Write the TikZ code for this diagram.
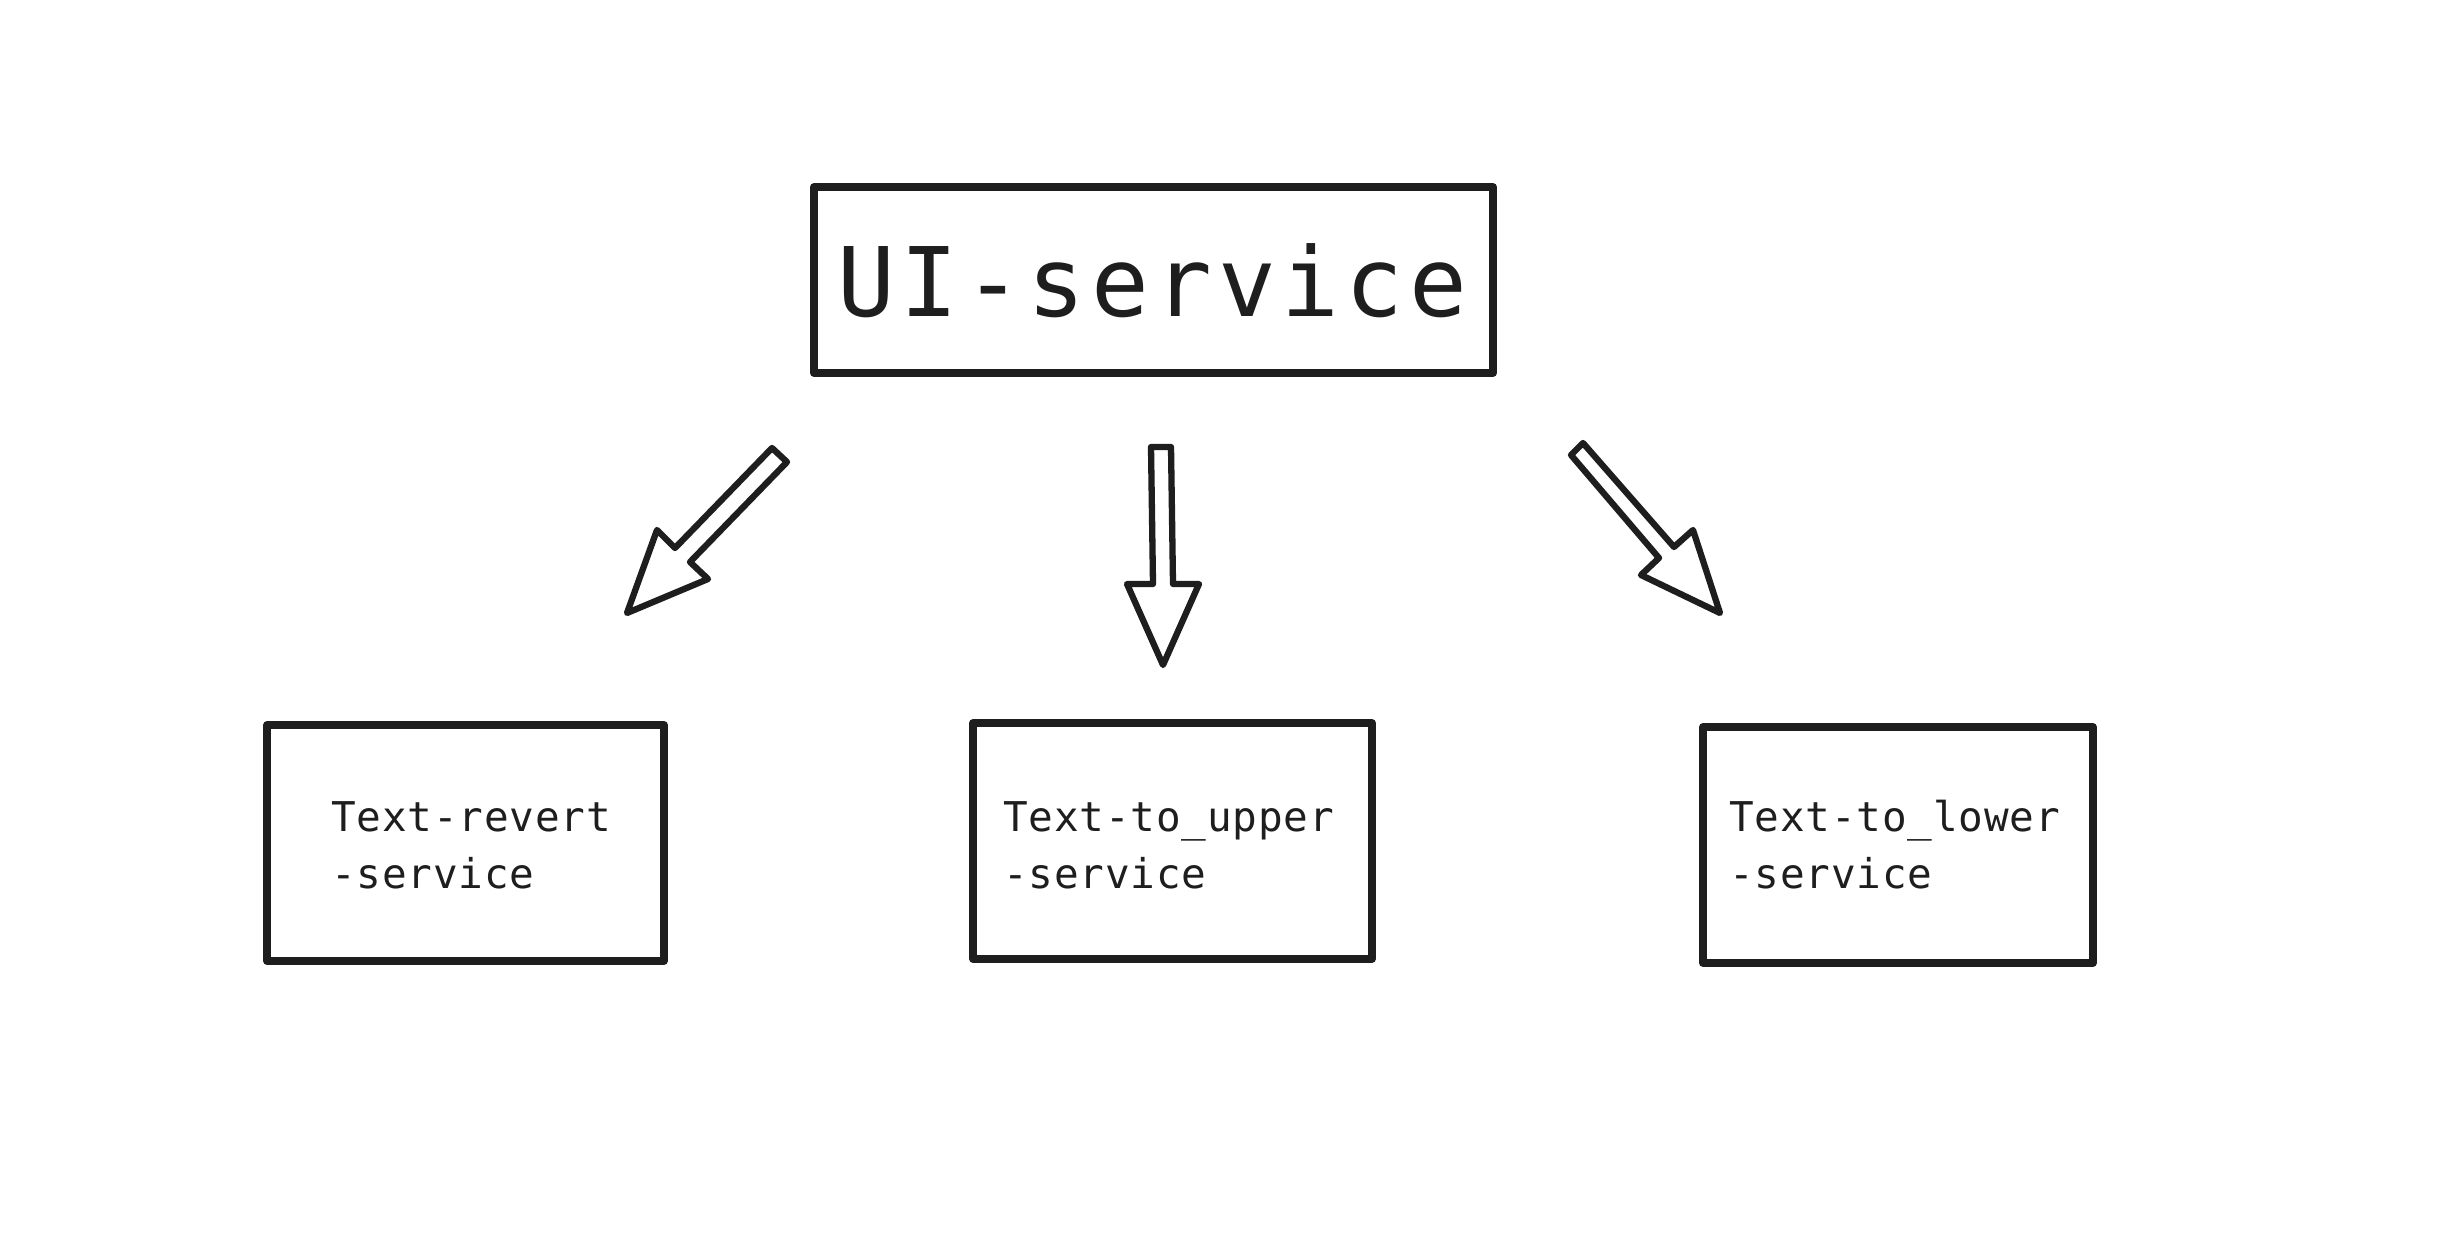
\documentclass[tikz,border=0pt]{standalone}
\usepackage{fontspec}
\newfontfamily\bigmono[LetterSpace=6.0]{DejaVu Sans Mono}
\newfontfamily\smallmono[LetterSpace=2.0]{DejaVu Sans Mono}
\definecolor{ink}{HTML}{1E1E1E}
\tikzset{
  box/.style={draw=ink, line width=7.5pt, line join=round, rectangle, inner sep=0pt, outer sep=0pt, anchor=north west},
  blockarrow/.style={draw=ink, line width=6.3pt, line join=round, fill=white},
  bigtext/.style={text=ink, inner sep=0pt, font=\bigmono\fontsize{96}{96}\selectfont, anchor=base},
  smalltext/.style={text=ink, inner sep=0pt, align=left, font=\smallmono\fontsize{41}{57}\selectfont, anchor=base west}
}
\begin{document}
\begin{tikzpicture}[x=1pt,y=-1pt]
\useasboundingbox[fill=white] (0,0) rectangle (2458,1242);
% boxes
\node[box, minimum width=679pt, minimum height=186pt] (ui) at (814,187) {};
\node[box, minimum width=397pt, minimum height=236pt] (revert) at (267,725) {};
\node[box, minimum width=399pt, minimum height=236pt] (upper) at (973,723) {};
\node[box, minimum width=390pt, minimum height=236pt] (lower) at (1703,727) {};
% texts
\node[bigtext] (uitext) at (1152,316) {UI-service};
\node[smalltext] (reverttext) at (331,888) {Text-revert\\-service};
\node[smalltext] (uppertext) at (1003,888) {Text-to\_upper\\-service};
\node[smalltext] (lowertext) at (1729,888) {Text-to\_lower\\-service};
% block arrows
\draw[blockarrow] (772,448) -- (787,462) -- (690,562) -- (708,579) -- (627,613) -- (657,530) -- (675,548) -- cycle;
\draw[blockarrow] (1151,447) -- (1171,447) -- (1173,584) -- (1199,584) -- (1163,665) -- (1127,584) -- (1153,584) -- cycle;
\draw[blockarrow] (1583,443) -- (1674,547) -- (1693,530) -- (1720,613) -- (1641,575) -- (1659,558) -- (1571,455) -- cycle;
\end{tikzpicture}
\end{document}
